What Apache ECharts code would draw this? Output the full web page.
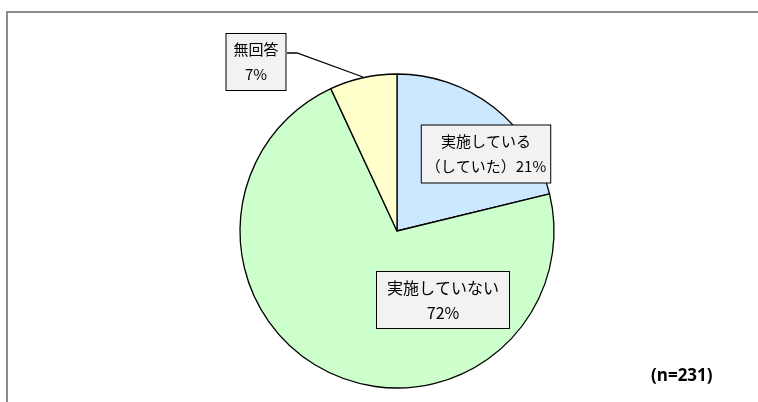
<!DOCTYPE html>
<html lang="ja">
<head>
    <meta charset="UTF-8">
    <title>実施状況</title>
    <script src="https://cdn.jsdelivr.net/npm/echarts@6/dist/echarts.min.js"></script>
    <style>
        html, body, #chart {
            width: 758px;
            height: 402px;
            padding: 0;
            margin: 0;
            background: #fff;
        }
    </style>
</head>
<body>
<div id="chart"></div>
<script>
    // data (n=231)
    var categories = ["実施している（していた）", "実施していない", "無回答"];
    var counts = [49, 166, 16];
    var labelHeads = ["実施している\n（していた）", "実施していない\n", "無回答\n"];
    var sliceColors = ["#CCE8FF", "#CCFFCC", "#FFFFCC"];
    var sampleNote = "(n=231)";

    // label box centres / font sizes / side padding, in px
    var labelPos = [[486, 154], [443, 300], [256, 62]];
    var labelFont = [15, 16, 15];
    var labelPad = [[4, 4, 3, 4], [3, 10, 3, 10], [3, 7, 3, 7]];

    var myChart = echarts.init(document.getElementById("chart"));

    var pieData = categories.map(function (name, i) {
        return {
            name: name,
            value: counts[i],
            itemStyle: {color: sliceColors[i]},
            label: {fontSize: labelFont[i], padding: labelPad[i]},
            labelLine: {show: i === 2}
        };
    });

    myChart.setOption({
        animation: false,
        graphic: [{
            type: "rect",
            shape: {x: 7, y: 12, width: 800, height: 420},
            style: {fill: null, stroke: "#8c8c8c", lineWidth: 2},
            silent: true
        }, {
            type: "text",
            left: 651,
            top: 368,
            style: {
                text: sampleNote,
                font: "bold 17px 'Open Sans', 'Noto Sans', sans-serif",
                fill: "#000"
            }
        }],
        series: [{
            type: "pie",
            center: [397, 231],
            radius: 157,
            startAngle: 90,
            clockwise: true,
            data: pieData,
            itemStyle: {
                borderColor: "#000",
                borderWidth: 1.3
            },
            emphasis: {disabled: true},
            label: {
                show: true,
                formatter: function (p) {
                    return labelHeads[p.dataIndex] + Math.round(p.percent) + "%";
                },
                fontFamily: "'Noto Sans CJK JP', sans-serif",
                lineHeight: 25,
                color: "#000",
                align: "center",
                backgroundColor: "#F2F2F2",
                borderColor: "#000",
                borderWidth: 1
            },
            labelLine: {
                show: false,
                lineStyle: {color: "#000", width: 1.3}
            },
            labelLayout: function (params) {
                var pos = labelPos[params.dataIndex];
                var out = {
                    x: pos[0],
                    y: pos[1],
                    align: "center",
                    verticalAlign: "middle"
                };
                if (params.dataIndex === 2) {
                    out.labelLinePoints = [[363, 77], [297, 53], [287, 53]];
                }
                return out;
            }
        }]
    });
</script>
</body>
</html>
